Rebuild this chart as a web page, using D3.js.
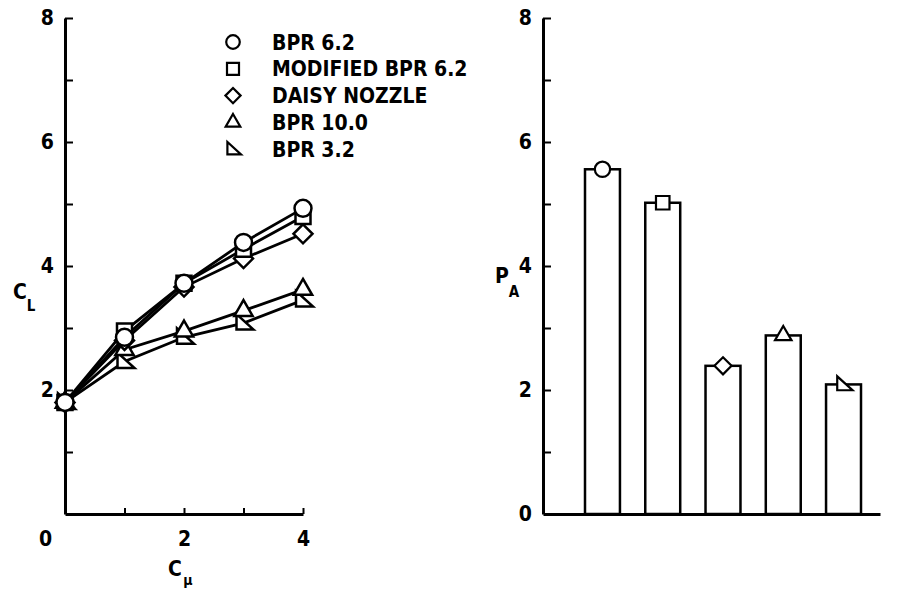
<!DOCTYPE html>
<html><head><meta charset="utf-8">
<script src="https://cdn.jsdelivr.net/npm/d3@7"></script>
<style>
body{margin:0;background:#fff;}
svg text{font-family:"DejaVu Sans Condensed","DejaVu Sans",sans-serif;font-weight:bold;font-stretch:condensed;fill:#000;}
</style></head><body>
<svg id="c" width="899" height="590"></svg>
<script>
// ---- data ----
const cmuValues = [0, 1, 2, 3, 4];
const seriesNames = ["BPR 6.2", "MODIFIED BPR 6.2", "DAISY NOZZLE", "BPR 10.0", "BPR 3.2"];
const seriesMarkers = ["circle", "square", "diamond", "triangle", "rtriangle"];
const clBpr62 = [1.8, 2.85, 3.72, 4.38, 4.93];
const clModBpr62 = [1.8, 2.95, 3.72, 4.27, 4.80];
const clDaisy = [1.8, 2.80, 3.66, 4.12, 4.52];
const clBpr100 = [1.8, 2.65, 2.95, 3.28, 3.62];
const clBpr32 = [1.8, 2.46, 2.85, 3.08, 3.45];
const paValues = [5.56, 5.02, 2.39, 2.88, 2.09];
const yTickLabels = [0, 2, 4, 6, 8];
const xTickLabels = [0, 2, 4];

const clSeries = [clBpr62, clModBpr62, clDaisy, clBpr100, clBpr32];

// ---- layout ----
const svg = d3.select("#c");
const yScale = d3.scaleLinear().domain([0, 8]).range([514, 18]);
const xLeft = d3.scaleLinear().domain([0, 4]).range([65, 303]);
const rightFrame = d3.scaleLinear().domain([0, 1]).range([543, 880]);
const xBars = d3.scaleBand().domain(seriesNames).range([585, 861]).paddingInner(0.42).paddingOuter(0);

function markerPath(type, s) {
  s = s || 1;
  switch (type) {
    case "circle": return d3.symbol(d3.symbolCircle, Math.PI * 72 * s * s)();
    case "square": return d3.symbol(d3.symbolSquare, 225 * s * s)();
    case "diamond": { const r = 9.5 * s; return `M0,${-r}L${r},0L0,${r}L${-r},0Z`; }
    case "triangle": return d3.symbol(d3.symbolTriangle, 145 * s * s)();
    case "rtriangle": return `M${-7*s},${-9*s}L${-7*s},${6.5*s}L${10*s},${6.5*s}Z`;
  }
}

function styleAxis(g, w) {
  g.select(".domain").attr("stroke", "#000").attr("stroke-width", w);
  g.selectAll(".tick line").attr("stroke", "#000").attr("stroke-width", 2);
  g.selectAll(".tick text").attr("font-size", 21).attr("fill", "#000");
  g.attr("font-family", null).attr("font-size", null);
}

// ---- left chart ----
const gL = svg.append("g");
gL.append("g").attr("transform", `translate(${xLeft(0)},0)`)
  .call(d3.axisLeft(yScale).tickValues(d3.range(1, 9)).tickSizeInner(-8).tickSizeOuter(0).tickPadding(11)
    .tickFormat(d => yTickLabels.includes(d) ? d : ""))
  .call(g => styleAxis(g, 3));
gL.append("g").attr("transform", `translate(0,${yScale(0)})`)
  .call(d3.axisBottom(xLeft).tickValues(cmuValues).tickSizeInner(-6).tickSizeOuter(0).tickPadding(17)
    .tickFormat(d => xTickLabels.includes(d) ? d : ""))
  .call(g => styleAxis(g, 3))
  .call(g => g.selectAll(".tick").filter(d => d === 0).select("text").attr("dx", -20));

// axis titles
gL.append("text").attr("x", 20).attr("y", 292).attr("dy", "0.35em").attr("text-anchor", "middle").attr("font-size", 21).text("C");
gL.append("text").attr("x", 31).attr("y", 306).attr("dy", "0.35em").attr("text-anchor", "middle").attr("font-size", 15).text("L");
gL.append("text").attr("x", 175).attr("y", 569).attr("dy", "0.35em").attr("text-anchor", "middle").attr("font-size", 21).text("C");
gL.append("text").attr("x", 188).attr("y", 580).attr("dy", "0.35em").attr("text-anchor", "middle").attr("font-size", 14).text("μ");

// lines
const line = d3.line().x((d, i) => xLeft(cmuValues[i])).y(d => yScale(d));
clSeries.forEach(s => {
  gL.append("path").attr("d", line(s)).attr("fill", "none").attr("stroke", "#000").attr("stroke-width", 2.8);
});
for (let k = clSeries.length - 1; k >= 0; k--) {
  gL.append("g").selectAll("path").data(clSeries[k]).join("path")
    .attr("transform", (d, i) => `translate(${xLeft(cmuValues[i])},${yScale(d)})`)
    .attr("d", markerPath(seriesMarkers[k]))
    .attr("fill", "#fff").attr("stroke", "#000").attr("stroke-width", 2.5);
}

// legend
const legend = gL.append("g").attr("transform", "translate(233,42)");
seriesNames.forEach((name, i) => {
  const row = legend.append("g").attr("transform", `translate(0,${i * 26.8})`);
  row.append("path").attr("d", markerPath(seriesMarkers[i], 0.8))
    .attr("fill", "#fff").attr("stroke", "#000").attr("stroke-width", 2.2);
  row.append("text").attr("x", 39).attr("dy", "0.36em").attr("font-size", 21).text(name);
});

// ---- right chart ----
const gR = svg.append("g");
gR.append("g").attr("transform", `translate(0,${yScale(0)})`)
  .call(d3.axisBottom(rightFrame).tickValues([]).tickSizeOuter(0))
  .call(g => styleAxis(g, 3));
gR.append("g").attr("transform", `translate(${rightFrame(0)},0)`)
  .call(d3.axisLeft(yScale).tickValues(d3.range(0, 9)).tickSizeInner(-8).tickSizeOuter(0).tickPadding(11)
    .tickFormat(d => yTickLabels.includes(d) ? d : ""))
  .call(g => styleAxis(g, 3))
  .call(g => g.selectAll(".tick").filter(d => d === 0).select("line").remove());

gR.append("text").attr("x", 502).attr("y", 276).attr("dy", "0.35em").attr("text-anchor", "middle").attr("font-size", 21).text("P");
gR.append("text").attr("x", 514).attr("y", 292).attr("dy", "0.35em").attr("text-anchor", "middle").attr("font-size", 15).text("A");

gR.append("g").selectAll("rect").data(paValues).join("rect")
  .attr("x", (d, i) => xBars(seriesNames[i]))
  .attr("y", d => yScale(d))
  .attr("width", xBars.bandwidth())
  .attr("height", d => yScale(0) - yScale(d))
  .attr("fill", "#fff").attr("stroke", "#000").attr("stroke-width", 2.5);

gR.append("g").selectAll("path").data(paValues).join("path")
  .attr("transform", (d, i) => `translate(${xBars(seriesNames[i]) + xBars.bandwidth() / 2},${yScale(d)})`)
  .attr("d", (d, i) => markerPath(seriesMarkers[i], 0.9))
  .attr("fill", "#fff").attr("stroke", "#000").attr("stroke-width", 2.2);
</script>
</body></html>
